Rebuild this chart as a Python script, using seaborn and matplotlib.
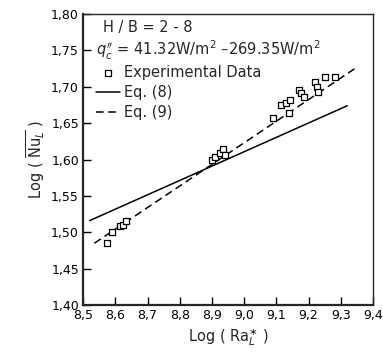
import numpy as np
import pandas as pd
import matplotlib
matplotlib.use("Agg")
import matplotlib.pyplot as plt
from matplotlib.ticker import FuncFormatter
import seaborn as sns

# --- data ---
log_ra = [8.574, 8.589, 8.615, 8.625, 8.633,
          8.900, 8.910, 8.925, 8.934, 8.941,
          9.091, 9.115, 9.130, 9.143, 9.140, 9.169, 9.176, 9.186,
          9.221, 9.226, 9.229, 9.252, 9.283]
log_nu = [1.485, 1.501, 1.508, 1.510, 1.515,
          1.599, 1.604, 1.609, 1.615, 1.606,
          1.657, 1.675, 1.678, 1.682, 1.664, 1.696, 1.692, 1.686,
          1.706, 1.700, 1.693, 1.714, 1.713]

eq8_x = [8.52, 9.32]
eq8_y = [1.516, 1.674]
eq9_x = [8.535, 9.35]
eq9_y = [1.485, 1.727]

xticks = [8.5, 8.6, 8.7, 8.8, 8.9, 9.0, 9.1, 9.2, 9.3, 9.4]
yticks = [1.40, 1.45, 1.50, 1.55, 1.60, 1.65, 1.70, 1.75, 1.80]

sns.set_style("ticks")
plt.rcParams['font.family'] = ['DejaVu Sans']
plt.rcParams['mathtext.fontset'] = 'dejavusans'

fig = plt.figure(figsize=(3.83, 3.61), dpi=100)
ax = fig.add_axes([0.217, 0.155, 0.757, 0.806])

df = pd.DataFrame({"x": log_ra, "y": log_nu})
sns.scatterplot(data=df, x="x", y="y", marker="s", s=13, facecolor="white",
                edgecolor="black", linewidth=0.9, ax=ax, label="Experimental Data", zorder=3)
sns.lineplot(x=eq8_x, y=eq8_y, color="black", lw=1.1, ax=ax, label="Eq. (8)")
sns.lineplot(x=eq9_x, y=eq9_y, color="black", lw=1.1, ls=(0, (5, 3)), ax=ax, label="Eq. (9)")

ax.set_xlim(8.5, 9.4)
ax.set_ylim(1.40, 1.80)
ax.set_xticks(xticks)
ax.set_yticks(yticks)
ax.xaxis.set_major_formatter(FuncFormatter(lambda v, p: f"{v:.1f}".replace(".", ",")))
ax.yaxis.set_major_formatter(FuncFormatter(lambda v, p: f"{v:.2f}".replace(".", ",")))
ax.tick_params(direction="in", length=6, width=1.0, labelsize=9, colors="black", pad=3)

for side in ["left", "bottom"]:
    ax.spines[side].set_linewidth(1.6)
for side in ["top", "right"]:
    ax.spines[side].set_linewidth(1.0)

ax.set_xlabel(r"Log ( Ra$_L^{\ast}$ )", fontsize=10.5, labelpad=3)
ax.set_ylabel(r"Log ( $\overline{\mathrm{Nu}_L}$ )", fontsize=10.5, labelpad=3)

ax.text(0.07, 0.98, "H / B = 2 - 8", transform=ax.transAxes, fontsize=10.5, va="top")
ax.text(0.045, 0.915, r"$q_c^{\prime\prime}$ = 41.32W/m$^2$ –269.35W/m$^2$",
        transform=ax.transAxes, fontsize=10.5, va="top")
ax.legend(loc="upper left", bbox_to_anchor=(0.015, 0.855), frameon=False, fontsize=10.5,
          handlelength=1.6, handletextpad=0.3, labelspacing=0.35, borderaxespad=0.2)

fig.savefig("out.png", dpi=100)
